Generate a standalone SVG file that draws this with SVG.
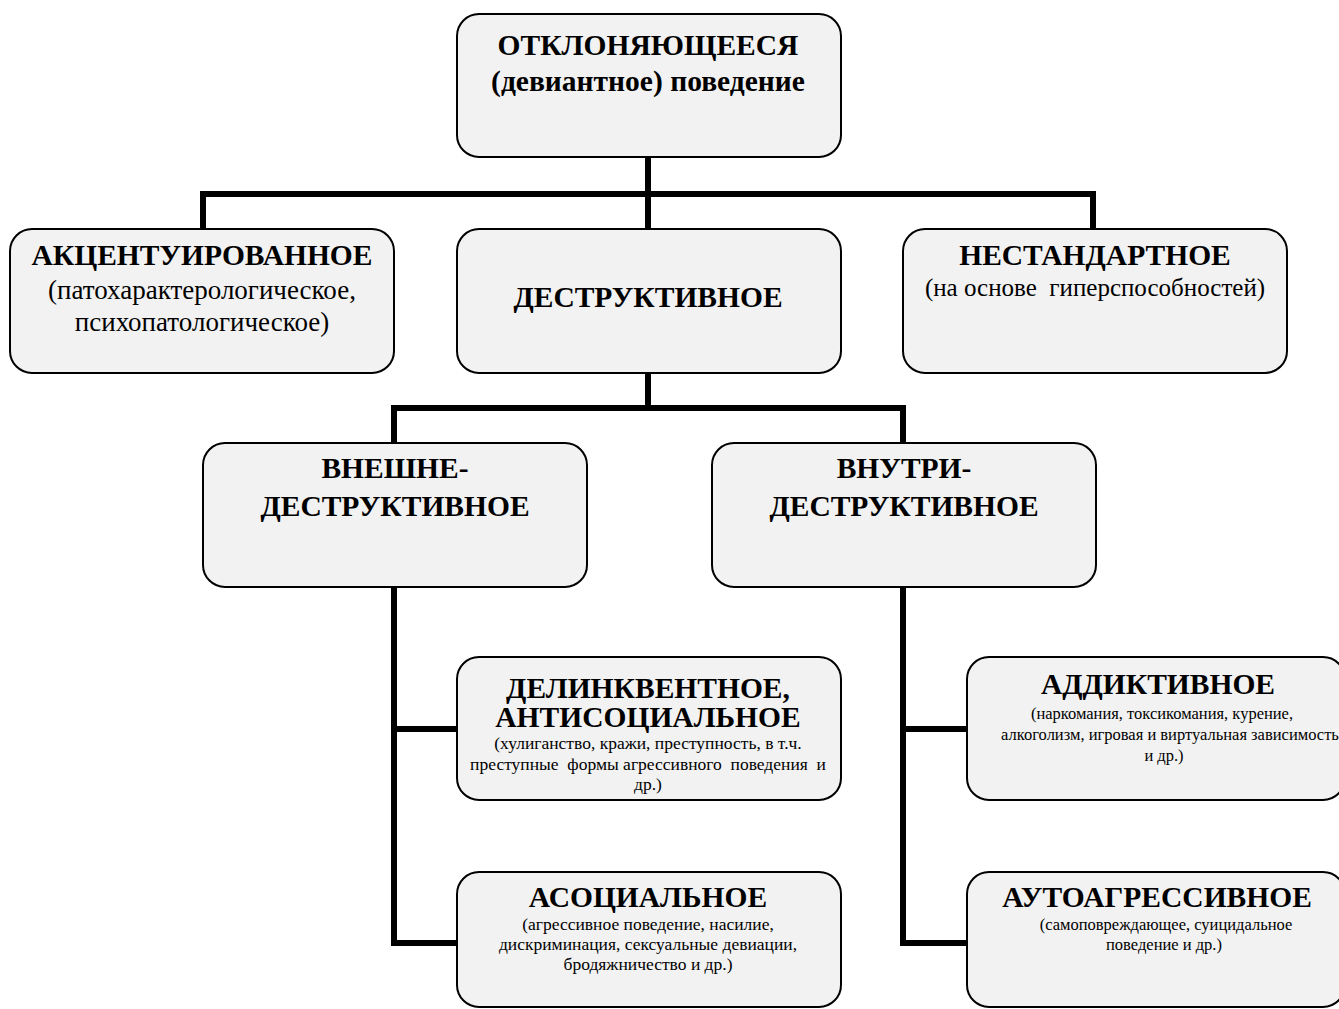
<svg xmlns="http://www.w3.org/2000/svg" width="1339" height="1009" viewBox="0 0 1339 1009">
<style>
.n{fill:#f2f2f2;stroke:#000;stroke-width:2}
.t{font-family:"Liberation Serif","Times New Roman",serif;font-weight:bold;font-size:29.5px;text-anchor:middle;fill:#000}
.s{font-family:"Liberation Serif","Times New Roman",serif;font-size:25px;text-anchor:middle;fill:#000}
.s2{font-size:27px}
.x{font-family:"Liberation Serif","Times New Roman",serif;font-size:17.5px;text-anchor:middle;fill:#000}
.x2{font-size:16.5px}
.c{fill:none;stroke:#000;stroke-width:6;stroke-linejoin:miter;stroke-linecap:square}
</style>
<rect width="1339" height="1009" fill="#fff"/>
<g id="connectors">
<path class="c" d="M648 158V194M203 228V194H1093V228M648 194V228"/>
<path class="c" d="M648 374V408M394 442V408H903V442"/>
<path class="c" d="M394 588V943H456M394 729H456"/>
<path class="c" d="M903 588V943H966M903 729H966"/>
</g>
<g id="n-root">
<rect class="n" x="457" y="14" width="384" height="143" rx="22"/>
<text class="t" x="648" y="55">ОТКЛОНЯЮЩЕЕСЯ</text>
<text class="t" x="648" y="91">(девиантное) поведение</text>
</g>
<g id="n-accent">
<rect class="n" x="10" y="229" width="384" height="144" rx="22"/>
<text class="t" x="202" y="265">АКЦЕНТУИРОВАННОЕ</text>
<text class="s s2" x="202" y="299">(патохарактерологическое,</text>
<text class="s s2" x="202" y="331">психопатологическое)</text>
</g>
<g id="n-destr">
<rect class="n" x="457" y="229" width="384" height="144" rx="22"/>
<text class="t" x="648" y="307">ДЕСТРУКТИВНОЕ</text>
</g>
<g id="n-nonstd">
<rect class="n" x="903" y="229" width="384" height="144" rx="22"/>
<text class="t" x="1095" y="265">НЕСТАНДАРТНОЕ</text>
<text class="s" x="1095" y="296" xml:space="preserve">(на основе  гиперспособностей)</text>
</g>
<g id="n-ext">
<rect class="n" x="203" y="443" width="384" height="144" rx="22"/>
<text class="t" x="395" y="478">ВНЕШНЕ-</text>
<text class="t" x="395" y="516">ДЕСТРУКТИВНОЕ</text>
</g>
<g id="n-int">
<rect class="n" x="712" y="443" width="384" height="144" rx="22"/>
<text class="t" x="904" y="478">ВНУТРИ-</text>
<text class="t" x="904" y="516">ДЕСТРУКТИВНОЕ</text>
</g>
<g id="n-delinq">
<rect class="n" x="457" y="657" width="384" height="143" rx="22"/>
<text class="t" x="648" y="698">ДЕЛИНКВЕНТНОЕ,</text>
<text class="t" x="648" y="727">АНТИСОЦИАЛЬНОЕ</text>
<text class="x" x="648" y="749">(хулиганство, кражи, преступность, в т.ч.</text>
<text class="x" x="648" y="770" xml:space="preserve">преступные  формы агрессивного  поведения  и</text>
<text class="x" x="648" y="790">др.)</text>
</g>
<g id="n-addict">
<rect class="n" x="967" y="657" width="378" height="143" rx="22"/>
<text class="t" x="1158" y="694">АДДИКТИВНОЕ</text>
<text class="x x2" x="1162" y="719">(наркомания, токсикомания, курение,</text>
<text class="x x2" x="1170" y="740">алкоголизм, игровая и виртуальная зависимость</text>
<text class="x x2" x="1164" y="761">и др.)</text>
</g>
<g id="n-asocial">
<rect class="n" x="457" y="872" width="384" height="135" rx="22"/>
<text class="t" x="648" y="907">АСОЦИАЛЬНОЕ</text>
<text class="x" x="648" y="930">(агрессивное поведение, насилие,</text>
<text class="x" x="648" y="950">дискриминация, сексуальные девиации,</text>
<text class="x" x="648" y="970">бродяжничество и др.)</text>
</g>
<g id="n-auto">
<rect class="n" x="967" y="872" width="378" height="135" rx="22"/>
<text class="t" x="1157" y="907">АУТОАГРЕССИВНОЕ</text>
<text class="x x2" x="1166" y="930">(самоповреждающее, суицидальное</text>
<text class="x x2" x="1164" y="950">поведение и др.)</text>
</g>
</svg>
